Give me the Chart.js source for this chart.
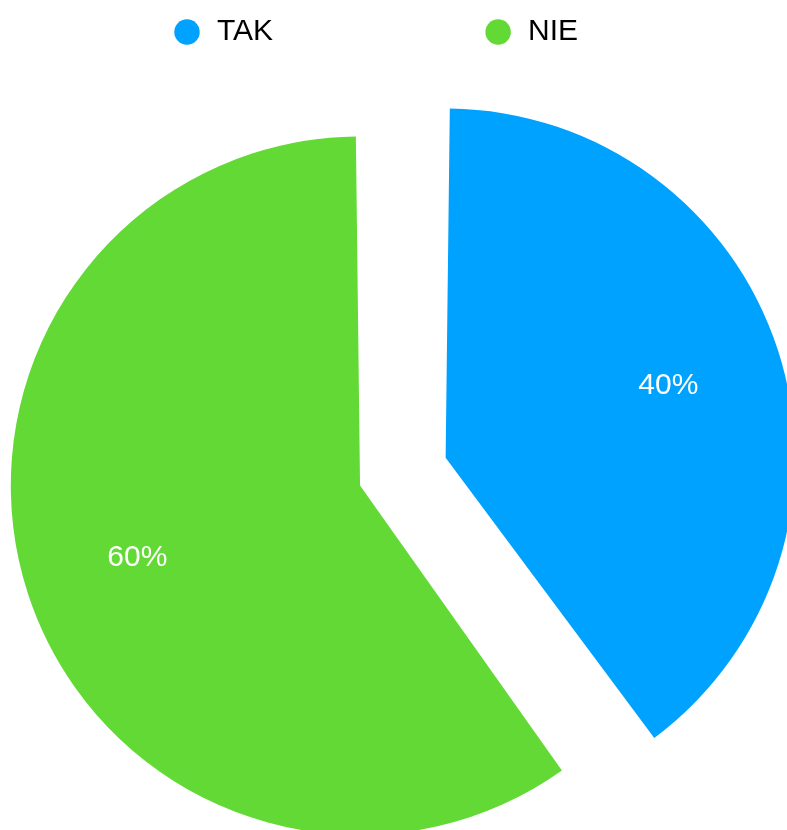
<!DOCTYPE html>
<html>
<head>
<meta charset="utf-8">
<script src="https://cdn.jsdelivr.net/npm/chart.js@4/dist/chart.umd.min.js"></script>
<style>
  html, body { margin: 0; padding: 0; background: #fff; overflow: hidden; width: 787px; height: 830px; }
  #wrap { position: absolute; left: -38px; top: 0; width: 846px; height: 898px; }
</style>
</head>
<body>
<div id="wrap"><canvas id="pieChart"></canvas></div>
<script>
// Datos del gráfico
const labels = ['TAK', 'NIE'];
const values = [40, 60];
const colors = ['#00A2FF', '#62D935'];
const offsets = [255, 105];

// Etiquetas de porcentaje dentro de cada sector
const percentLabels = {
    id: 'percentLabels',
    afterDatasetsDraw(chart) {
        const ctx = chart.ctx;
        const meta = chart.getDatasetMeta(0);
        ctx.save();
        ctx.fillStyle = '#ffffff';
        ctx.font = '30px "Liberation Sans", Arial, sans-serif';
        ctx.textAlign = 'center';
        ctx.textBaseline = 'middle';
        meta.data.forEach(function(arc, i) {
            const p = arc.getProps(['x', 'y', 'startAngle', 'endAngle', 'outerRadius'], true);
            const mid = (p.startAngle + p.endAngle) / 2;
            const d = (arc.options.offset || 0) / 4 + 0.725 * p.outerRadius;
            ctx.fillText(values[i] + '%', p.x + Math.cos(mid) * d, p.y + Math.sin(mid) * d);
        });
        ctx.restore();
    }
};

const legendPad = 210;

new Chart(document.getElementById('pieChart'), {
    type: 'pie',
    data: {
        labels: labels,
        datasets: [{
            data: values,
            backgroundColor: colors,
            borderWidth: 0,
            offset: offsets,
            hoverOffset: 0,
            clip: false
        }]
    },
    options: {
        responsive: true,
        maintainAspectRatio: false,
        animation: false,
        radius: 323,
        layout: {
            padding: { left: 0, right: 0, top: 17 - legendPad, bottom: 0 }
        },
        plugins: {
            tooltip: { enabled: false },
            legend: {
                position: 'top',
                align: 'start',
                labels: {
                    usePointStyle: true,
                    pointStyle: 'circle',
                    boxWidth: 30,
                    boxHeight: 18,
                    padding: legendPad,
                    color: '#000000',
                    font: { size: 30, family: '"Liberation Sans", Arial, sans-serif' }
                }
            }
        }
    },
    plugins: [percentLabels]
});
</script>
</body>
</html>
